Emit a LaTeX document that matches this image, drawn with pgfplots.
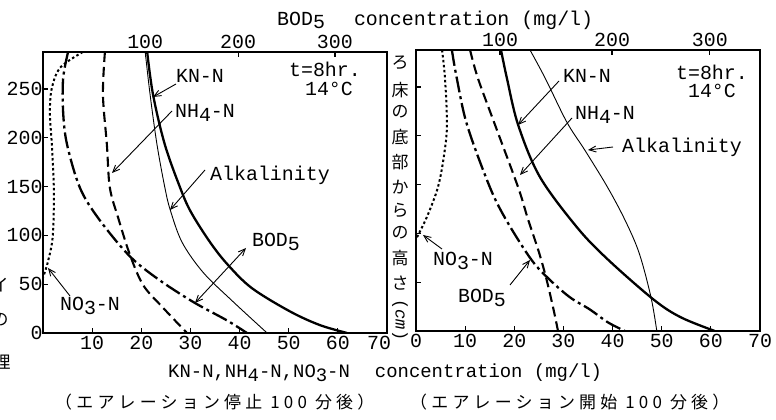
\documentclass[border=0pt]{standalone}
\usepackage{pgfplots}
\pgfplotsset{compat=1.18}
\usepackage{fontspec}
\usetikzlibrary{arrows.meta}
\newfontfamily\tw{Liberation Mono}
\newfontfamily\jp{Noto Sans CJK JP}
\newfontfamily\jpsp[LetterSpace=25]{Noto Sans CJK JP}
\newcommand\tickf{\tw\fontsize{20}{22}\selectfont}
\newcommand\labf{\tw\fontsize{20}{22}\selectfont}
\newcommand\sub[1]{\raisebox{-0.35ex}{#1}}
\pgfplotsset{
  panel/.style={scale only axis,width=344bp,height=281bp,xmin=0,xmax=70,ymin=0,ymax=288,
    axis line style={line width=1.6bp}, tick style={line width=1.2bp,black}, major tick length=5bp,
    tick align=inside, /pgf/number format/assume math mode=true, tick label style={font=\tickf}},
  knn/.style={black,line width=2.3bp,smooth,tension=0.55},
  alk/.style={black,line width=0.9bp,smooth,tension=0.55},
  nh4/.style={black,line width=2.1bp,dash pattern=on 10bp off 5bp,smooth,tension=0.55},
  bod/.style={black,line width=2.3bp,dash pattern=on 16bp off 4bp on 3bp off 4bp,smooth,tension=0.55},
  no3/.style={black,line width=2bp,dash pattern=on 2.5bp off 2.5bp,smooth,tension=0.55},
}
\tikzset{arr/.style={line width=0.9bp,-{Straight Barb[length=7bp,width=6bp]}},
         darr/.style={line width=0.9bp,{Straight Barb[length=7bp,width=6bp]}-{Straight Barb[length=7bp,width=6bp]}},
         tl/.style={inner sep=0pt,text height=12bp,text depth=2bp}}
\begin{document}
\begin{tikzpicture}
\useasboundingbox (0,0) rectangle (776bp,420bp);
% ---------------- left panel ----------------
\begin{axis}[panel, at={(43bp,87bp)}, anchor=south west,
  xtick={10,20,...,60}, extra x ticks={70}, extra x tick style={xticklabel style={xshift=-8bp}},
  ytick={0,50,...,250}, xtick pos=bottom, ytick pos=left,
  yticklabel style={xshift=3bp}]
\addplot[knn] coordinates {(21.2,288) (22.4,244) (24.8,193) (27.9,149) (30.1,124) (34.0,93) (37.6,70) (42.5,46) (50.3,22) (56.4,8) (61.9,0)};
\addplot[alk] coordinates {(20.8,288) (21.8,244) (23.2,193) (24.8,149) (25.9,126) (28.3,93) (32.6,62) (38.7,32) (45.6,0)};
\addplot[nh4] coordinates {(12.6,288) (12.2,244) (13.0,193) (13.6,149) (15.3,118) (17.7,80) (20.4,49) (24.4,26) (29.3,0)};
\addplot[bod] coordinates {(5.1,288) (4.1,261) (4.1,226) (4.9,193) (7.5,149) (11.2,118) (17.4,80) (23.2,56) (30.5,32) (37.4,13) (41.5,0)};
\addplot[no3] coordinates {(8.1,288) (3.5,272) (1.8,251) (1.4,226) (1.8,193) (2.2,149) (2.0,100) (1.0,73) (0,57)};
\end{axis}
\begin{axis}[panel, at={(43bp,87bp)}, anchor=south west, axis x line*=top, axis y line=none,
  xtick={20.8,39.7,59.4}, xticklabels={100,200,300}]
\end{axis}
% ---------------- right panel ----------------
\begin{axis}[panel, at={(416bp,89bp)}, anchor=south west,
  xtick={0,10,...,70}, ytick={50,100,...,250}, yticklabels={}, xtick pos=bottom, ytick pos=left]
\addplot[knn] coordinates {(17.3,288) (18.5,259) (20.8,211) (25.2,158) (32.8,106) (39.1,73) (48.4,32) (53.9,14) (60.8,0)};
\addplot[alk] coordinates {(23.2,288) (26.3,259) (30.7,214) (34.4,185) (38.9,148) (42.5,114) (45.4,80) (47.8,35) (49.0,0)};
\addplot[nh4] coordinates {(11.0,288) (12.6,259) (16.1,211) (20.8,147) (22.7,116) (25.0,81) (26.5,54) (27.9,24) (28.9,0)};
\addplot[bod] coordinates {(7.3,288) (8.3,259) (10.4,211) (14.9,149) (18.1,116) (23.2,75) (26.7,55) (31.2,35) (35.4,22) (39.0,9) (42.5,0)};
\addplot[no3] coordinates {(5.3,288) (5.9,259) (6.3,211) (5.7,180) (4.5,148) (2.4,119) (0.4,98) (0,95)};
\end{axis}
\begin{axis}[panel, at={(416bp,89bp)}, anchor=south west, axis x line*=top, axis y line=none,
  xtick={17.1,39.9,59.8}, xticklabels={100,200,300}]
\end{axis}
% ---------------- annotations ----------------
\begin{scope}[x=1bp,y=-1bp,yshift=420bp,font=\labf]
% left
\node at (200,76) {KN-N};
\draw[arr] (176,84) -- (153,97);
\node at (205,113) {NH\sub{4}-N};
\draw[arr] (172,111) -- (112,173);
\node at (270,175) {Alkalinity};
\draw[arr] (205,170) -- (170,210);
\node at (276,242) {BOD\sub{5}};
\draw[darr] (246,248) -- (195,303);
\node at (90,306) {NO\sub{3}-N};
\draw[arr] (70,296) -- (48,268);
\node[tl] at (325,72) {t=8hr.};
\node[tl] at (329,91) {14°C};
% right
\node at (587,76) {KN-N};
\draw[arr] (559,81) -- (518,125);
\node at (605,115) {NH\sub{4}-N};
\draw[arr] (572,118) -- (520,175);
\node at (682,147) {Alkalinity};
\draw[arr] (613,147) -- (588,150);
\node[tl] at (712,75) {t=8hr.};
\node[tl] at (712,93) {14°C};
\node at (463,261) {NO\sub{3}-N};
\draw[arr] (442,249) -- (423,235);
\node at (482,298) {BOD\sub{5}};
\draw[arr] (510,285) -- (530,260);
% titles
\node[anchor=west,inner sep=0pt] at (277,20) {BOD\sub{5}\hspace{29bp}concentration (mg/l)};
\node[anchor=west,inner sep=0pt] at (168,373) {\fontsize{19}{21}\selectfont KN-N,NH\sub{4}-N,NO\sub{3}-N\hspace{25bp}concentration (mg/l)};
\node[anchor=west,inner sep=0pt] at (55,402) {\jpsp\fontsize{17}{20}\selectfont （エアレーション停止 100 分後）};
\node[anchor=west,inner sep=0pt] at (410,402) {\jpsp\fontsize{17}{20}\selectfont （エアレーション開始 100 分後）};
% vertical label between panels
\foreach \c/\yy in {ろ/63,床/90,の/112,底/137,部/162,か/187,ら/210,の/233,高/258,さ/283}
  \node[inner sep=0pt] at (400,\yy) {\jp\fontsize{17}{18}\selectfont \c};
\node[rotate=-90,inner sep=0pt] at (400,320) {\fontsize{17}{18}\selectfont(\textit{cm})};
% cut-off label at the left edge
\node[inner sep=0pt] at (0,285) {\jp\fontsize{17}{20}\selectfont イ};
\node[inner sep=0pt] at (0,320) {\jp\fontsize{17}{20}\selectfont の};
\node[inner sep=0pt] at (2,362) {\jp\fontsize{17}{20}\selectfont 理};
\end{scope}
\end{tikzpicture}
\end{document}
